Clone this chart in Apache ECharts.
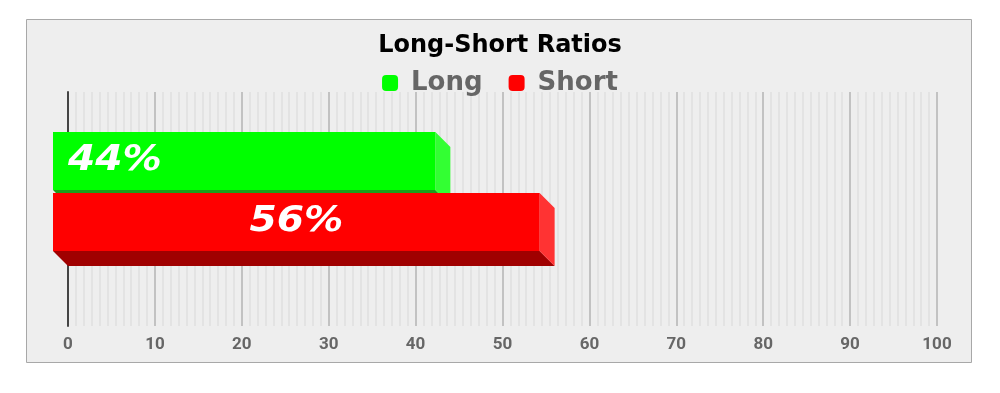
<!DOCTYPE html>
<html><head><meta charset="utf-8">
<script src="https://cdn.jsdelivr.net/npm/echarts@6/dist/echarts.min.js"></script>
<style>html,body{margin:0;padding:0;background:#fff}#c{width:1000px;height:393px}</style>
</head><body><div id="c"></div>
<script>
var categories = ['Ratio'];
var seriesNames = ['Long', 'Short'];
var longValues = [44];
var shortValues = [56];
var xTicks = [0, 10, 20, 30, 40, 50, 60, 70, 80, 90, 100];

var chart = echarts.init(document.getElementById('c'));
var DEPTH = 15, BAR_H = 58, GAP = 3;
var colors = [
  {front: '#00ff00', side: '#33ff33', bottom: '#1b9e1b'},
  {front: '#ff0000', side: '#ff3333', bottom: '#a00000'}
];

function makeRender(si) {
  return function (params, api) {
    var v = api.value(1);
    var p0 = api.coord([0, api.value(0)]);
    var pv = api.coord([v, api.value(0)]);
    var c = p0[1] - 2.5;
    var top = si === 0 ? c - GAP / 2 - BAR_H : c + GAP / 2;
    var bot = top + BAR_H;
    var x0 = p0[0], x1 = pv[0];
    var col = colors[si];
    var fx0 = x0 - DEPTH, fx1 = x1 - DEPTH, ft = top - DEPTH, fb = bot - DEPTH;
    var label = v + '%';
    var tx = si === 0 ? fx0 + 15 : (fx0 + fx1) / 2;
    return {
      type: 'group',
      children: [
        {type: 'polygon', shape: {points: [[fx0, fb], [fx1, fb], [x1, bot], [x0, bot]]}, style: {fill: col.bottom}},
        {type: 'polygon', shape: {points: [[fx1, ft], [x1, top], [x1, bot], [fx1, fb]]}, style: {fill: col.side}},
        {type: 'rect', shape: {x: fx0, y: ft, width: fx1 - fx0, height: fb - ft}, style: {fill: col.front}},
        {type: 'text', x: tx, y: (ft + fb) / 2, scaleX: 1.12,
          style: {text: label, x: 0, y: 0, fill: '#fff', font: 'italic bold 35px "DejaVu Sans"',
          textAlign: si === 0 ? 'left' : 'center', textVerticalAlign: 'middle',
          align: si === 0 ? 'left' : 'center', verticalAlign: 'middle'}}
      ]
    };
  };
}

chart.setOption({
  backgroundColor: '#ffffff',
  animation: false,
  graphic: [{type: 'rect', z: -10, silent: true, shape: {x: 26.5, y: 19.5, width: 945, height: 343},
    style: {fill: '#eeeeee', stroke: '#a8a8a8', lineWidth: 1}}],
  title: {text: 'Long-Short Ratios', left: 'center', top: 29,
    textStyle: {fontFamily: 'DejaVu Sans', fontWeight: 'bold', fontSize: 24, color: '#000'}},
  legend: {top: 65, left: 'center', itemWidth: 16, itemHeight: 16, itemGap: 26,
    icon: 'roundRect',
    textStyle: {fontFamily: 'DejaVu Sans', fontWeight: 'bold', fontSize: 26, color: '#666', padding: [0, 0, 0, 8]},
    data: seriesNames},
  grid: {left: 68, right: 63, top: 92, bottom: 67},
  xAxis: {type: 'value', min: 0, max: 100, interval: 10,
    axisLine: {show: false}, axisTick: {show: false},
    axisLabel: {color: '#666', fontFamily: 'Roboto', fontWeight: 'bold', fontSize: 17, margin: 10,
      formatter: function (v) { return xTicks.indexOf(v) >= 0 ? String(v) : ''; }},
    splitLine: {show: true, lineStyle: {color: '#c2c2c2', width: 2}},
    minorTick: {show: false, splitNumber: 11},
    minorSplitLine: {show: true, lineStyle: {color: '#e0e0e0', width: 1.5}}},
  yAxis: {type: 'category', data: categories,
    axisLine: {show: true, lineStyle: {color: '#444', width: 2}},
    axisTick: {show: false}, axisLabel: {show: false}, splitLine: {show: false}},
  series: [
    {name: seriesNames[0], type: 'custom', clip: false, itemStyle: {color: '#00ff00'},
      renderItem: makeRender(0), data: longValues.map(function (v, i) { return [i, v]; }),
      encode: {x: 1, y: 0}, z: 3},
    {name: seriesNames[1], type: 'custom', clip: false, itemStyle: {color: '#ff0000'},
      renderItem: makeRender(1), data: shortValues.map(function (v, i) { return [i, v]; }),
      encode: {x: 1, y: 0}, z: 4}
  ]
});
</script></body></html>
